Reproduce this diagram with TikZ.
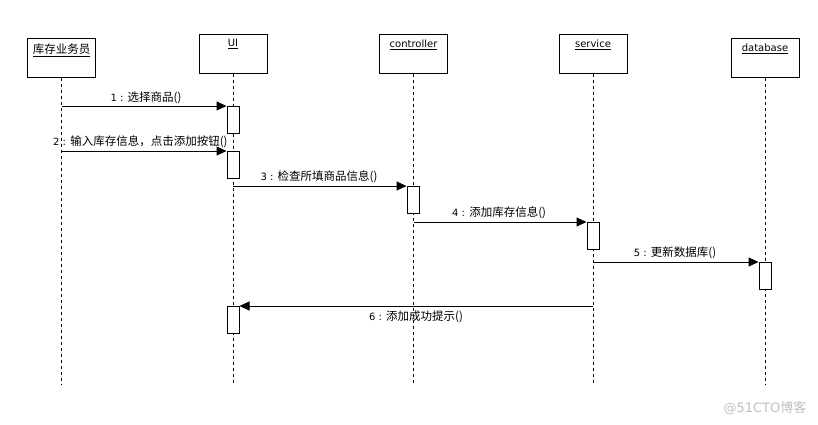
\documentclass[tikz,border=0pt]{standalone}
\usepackage{fontspec}
\setmainfont{DejaVu Sans}
\newfontfamily\cjk{Noto Sans CJK SC}
\usetikzlibrary{arrows.meta}
\begin{document}
\begin{tikzpicture}[x=1pt,y=-1pt,
  actor/.style={draw, line width=1pt, minimum width=68pt, minimum height=39pt, inner sep=0pt},
  aname/.style={anchor=north, inner sep=0pt, font=\fontsize{10}{11}\selectfont},
  lifeline/.style={line width=1pt, dash pattern=on 3pt off 3pt},
  actbox/.style={draw, line width=1pt, fill=white, minimum width=12pt, minimum height=27pt, inner sep=0pt, anchor=north},
  msg/.style={line width=1pt, -{Triangle[length=10pt,width=9pt]}},
  mlabel/.style={inner sep=0pt, font=\fontsize{10}{11}\selectfont}]
\useasboundingbox (0,0) rectangle (818,424);
% actors
\node[actor] (emp) at (61.5,57.5) {};
\node[actor] (ui) at (233,53.5) {};
\node[actor] (ctl) at (413.5,53.5) {};
\node[actor] (svc) at (593,53.5) {};
\node[actor] (db) at (765,57.5) {};
\node[aname] (empt) at ([yshift=-6pt]emp.north) {\underline{\cjk\fontsize{11.5}{12}\selectfont 库存业务员}};
\node[aname] (uit) at ([yshift=-6pt]ui.north) {\underline{UI}};
\node[aname] (ctlt) at ([yshift=-6pt]ctl.north) {\underline{controller}};
\node[aname] (svct) at ([yshift=-6pt]svc.north) {\underline{service}};
\node[aname] (dbt) at ([yshift=-6pt]db.north) {\underline{database}};
% lifeline ends
\coordinate (bot) at (0,384);
\draw[lifeline] (emp.south) -- (emp.south |- bot);
\draw[lifeline] (ui.south) -- (ui.south |- bot);
\draw[lifeline] (ctl.south) -- (ctl.south |- bot);
\draw[lifeline] (svc.south) -- (svc.south |- bot);
\draw[lifeline] (db.south) -- (db.south |- bot);
% activation boxes
\node[actbox] (a1) at (233,106) {};
\node[actbox] (a2) at (233,151) {};
\node[actbox] (a3) at (413,186) {};
\node[actbox] (a4) at (593,222) {};
\node[actbox] (a5) at (765,262) {};
\node[actbox] (a6) at (233,306) {};
% messages
\draw[msg] (emp.south |- a1.north) -- (a1.north west);
\draw[msg] (emp.south |- a2.north) -- (a2.north west);
\draw[msg] (ui.south |- a3.north) -- (a3.north west);
\draw[msg] (ctl.south |- a4.north) -- (a4.north west);
\draw[msg] (svc.south |- a5.north) -- (a5.north west);
\draw[msg] (svc.south |- a6.north) -- (a6.north east);
% labels
\node[mlabel] (l1) at (146,98) {1 : {\cjk\fontsize{11.5}{12}\selectfont 选择商品()}};
\node[mlabel, anchor=west] (l2) at (53,142) {2 : {\cjk\fontsize{11.5}{12}\selectfont 输入库存信息，点击添加按钮()}};
\node[mlabel] (l3) at (319,177) {3 : {\cjk\fontsize{11.5}{12}\selectfont 检查所填商品信息()}};
\node[mlabel, anchor=west] (l4) at (452,213) {4 : {\cjk\fontsize{11.5}{12}\selectfont 添加库存信息()}};
\node[mlabel] (l5) at (675,253) {5 : {\cjk\fontsize{11.5}{12}\selectfont 更新数据库()}};
\node[mlabel] (l6) at (416,317) {6 : {\cjk\fontsize{11.5}{12}\selectfont 添加成功提示()}};
% watermark
\node[inner sep=0pt, text=black!25, font=\fontsize{13}{14}\selectfont] (wm) at (765,408) {@51CTO{\cjk 博客}};
\end{tikzpicture}
\end{document}
